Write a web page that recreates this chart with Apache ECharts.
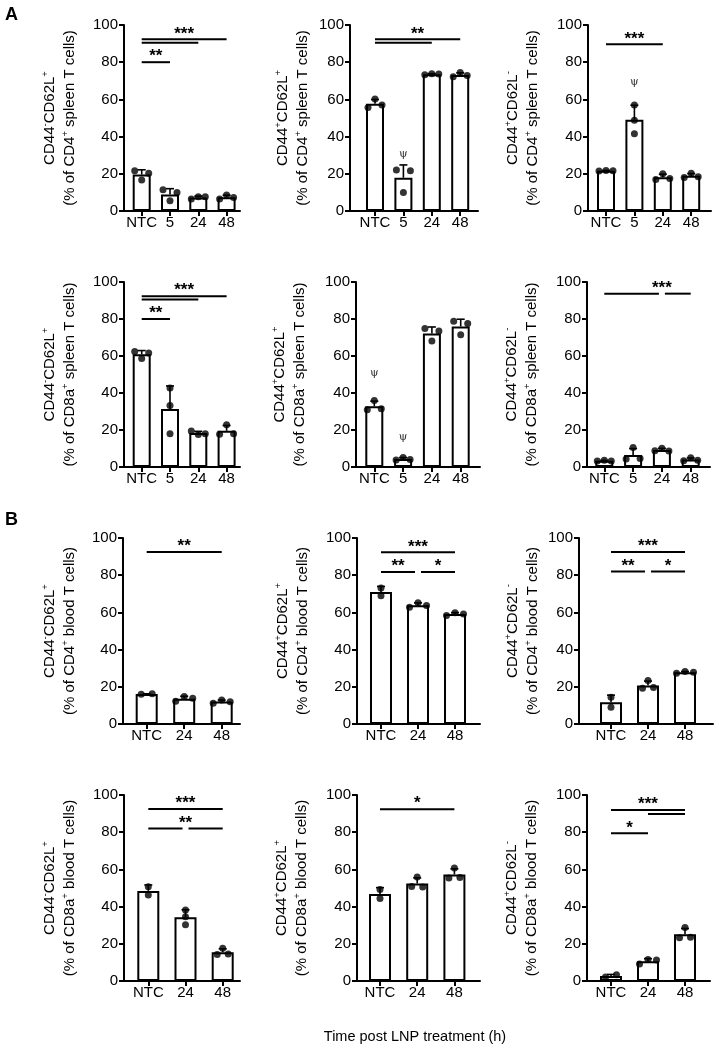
<!DOCTYPE html>
<html><head><meta charset="utf-8">
<script src="https://cdn.jsdelivr.net/npm/echarts@6/dist/echarts.min.js"></script>
<style>html,body{margin:0;padding:0;background:#fff}#c{width:719px;height:1050px}</style>
</head><body><div id="c"></div>
<script>
// ---------- data ----------
const catsA = ['NTC', '5', '24', '48'];
const catsB = ['NTC', '24', '48'];
const yTicks = [0, 20, 40, 60, 80, 100];
const xTitle = 'Time post LNP treatment (h)';

// y-axis titles: [CD44 sign, CD62L sign, parent population, tissue]
const titles = [
  ['-', '+', 'CD4', 'spleen'], ['+', '+', 'CD4', 'spleen'], ['+', '-', 'CD4', 'spleen'],
  ['-', '+', 'CD8a', 'spleen'], ['+', '+', 'CD8a', 'spleen'], ['+', '-', 'CD8a', 'spleen'],
  ['-', '+', 'CD4', 'blood'], ['+', '+', 'CD4', 'blood'], ['+', '-', 'CD4', 'blood'],
  ['-', '+', 'CD8a', 'blood'], ['+', '+', 'CD8a', 'blood'], ['+', '-', 'CD8a', 'blood']
];

// replicate values (%) per group
const p1 = [[21.7, 16.7, 20.3], [11.4, 5.5, 9.9], [6.5, 7.7, 7.7], [6.5, 8.6, 7.2]];
const p2 = [[55.7, 60.2, 57.0], [22.0, 9.9, 21.7], [73.3, 73.8, 73.6], [72.2, 74.4, 72.8]];
const p3 = [[21.5, 21.8, 21.6], [48.8, 57.0, 41.5], [17.0, 20.0, 17.5], [18.0, 20.3, 18.4]];
const p4 = [[62.5, 58.6, 61.6], [42.7, 33.3, 18.0], [19.4, 17.6, 18.0], [17.7, 22.9, 18.0]];
const p5 = [[31.0, 36.0, 31.5], [3.8, 5.2, 4.0], [74.8, 68.1, 73.5], [78.8, 71.5, 77.6]];
const p6 = [[3.2, 3.6, 3.2], [4.3, 10.5, 4.6], [8.8, 10.2, 8.6], [3.4, 5.0, 3.6]];
const p7 = [[16.0, 16.2], [12.2, 14.8, 13.8], [11.2, 12.9, 12.0]];
const p8 = [[73.1, 68.9], [62.8, 65.2, 63.7], [58.3, 59.8, 59.2]];
const p9 = [[14.4, 9.0], [19.2, 23.4, 19.6], [27.3, 28.2, 27.8]];
const p10 = [[50.7, 46.2], [38.2, 34.5, 30.2], [14.3, 17.6, 14.5]];
const p11 = [[49.2, 44.4], [50.8, 55.9, 50.6], [55.4, 60.8, 55.6]];
const p12 = [[2.2, 3.3], [9.1, 11.6, 11.3], [23.3, 28.7, 23.5]];

// significance brackets: from-group, to-group, height (%), label, optional label group
const s1 = [{f: 0, t: 1, y: 80, l: '**'}, {f: 0, t: 2, y: 90.5, l: ''}, {f: 0, t: 3, y: 92.3, l: '***'}];
const s2 = [{f: 0, t: 2, y: 90.5, l: ''}, {f: 0, t: 3, y: 92.3, l: '**'}];
const s3 = [{f: 0, t: 2, y: 89.6, l: '***'}];
const s4 = [{f: 0, t: 1, y: 80, l: '**'}, {f: 0, t: 2, y: 90.5, l: ''}, {f: 0, t: 3, y: 92.3, l: '***'}];
const s5 = [];
const s6 = [{f: 0, t: 2, y: 93.7, l: '***', at: 2}, {f: 2, t: 3, y: 93.7, l: ''}];
const s7 = [{f: 0, t: 2, y: 92.5, l: '**'}];
const s8 = [{f: 0, t: 2, y: 92.3, l: '***'}, {f: 0, t: 1, y: 81.7, l: '**'}, {f: 1, t: 2, y: 81.7, l: '*'}];
const s9 = [{f: 0, t: 2, y: 92.5, l: '***'}, {f: 0, t: 1, y: 82, l: '**'}, {f: 1, t: 2, y: 82, l: '*'}];
const s10 = [{f: 0, t: 2, y: 92.5, l: '***'}, {f: 0, t: 1, y: 82, l: '**', at: 1}, {f: 1, t: 2, y: 82, l: ''}];
const s11 = [{f: 0, t: 2, y: 92.4, l: '*'}];
const s12 = [{f: 0, t: 2, y: 91.9, l: '***'}, {f: 1, t: 2, y: 89.8, l: ''}, {f: 0, t: 1, y: 79.4, l: '*'}];

// psi annotations: group, height (%)
const psi2 = [{c: 1, y: 30.6}];
const psi3 = [{c: 1, y: 69.5}];
const psi5 = [{c: 0, y: 50.5}, {c: 1, y: 16.2}];

// ---------- layout (pixels) ----------
const font = "'Liberation Sans', Arial, Helvetica, sans-serif";
const layout = [
  {left: 124, right: 240, top: 25, bottom: 211, first: 141.7, sp: 28.3, tx: 60},
  {left: 350, right: 478, top: 25, bottom: 211, first: 375, sp: 28.4, tx: 293},
  {left: 588, right: 711, top: 25, bottom: 211, first: 606, sp: 28.4, tx: 523},
  {left: 124, right: 240, top: 282, bottom: 467, first: 141.7, sp: 28.3, tx: 60},
  {left: 356, right: 480, top: 282, bottom: 467, first: 374.3, sp: 28.8, tx: 290},
  {left: 587, right: 710, top: 282, bottom: 467, first: 604.3, sp: 28.8, tx: 522},
  {left: 123, right: 240, top: 538, bottom: 724, first: 146.7, sp: 37.5, tx: 60},
  {left: 357, right: 480, top: 538, bottom: 724, first: 381, sp: 37, tx: 293},
  {left: 579, right: 713, top: 538, bottom: 724, first: 611, sp: 37, tx: 523},
  {left: 124, right: 240, top: 795, bottom: 981, first: 148.3, sp: 37.2, tx: 60},
  {left: 357, right: 480, top: 795, bottom: 981, first: 380, sp: 37.2, tx: 292},
  {left: 587, right: 710, top: 795, bottom: 981, first: 611, sp: 37, tx: 522}
];
const styleA = {barW: 18, d2: 7, d3: 7};
const styleB = {barW: 22, d2: 5.5, d3: 8.5};

const panels = [
  {cats: catsA, vals: p1, sig: s1, psi: [], st: styleA},
  {cats: catsA, vals: p2, sig: s2, psi: psi2, st: styleA},
  {cats: catsA, vals: p3, sig: s3, psi: psi3, st: styleA},
  {cats: catsA, vals: p4, sig: s4, psi: [], st: styleA},
  {cats: catsA, vals: p5, sig: s5, psi: psi5, st: styleA},
  {cats: catsA, vals: p6, sig: s6, psi: [], st: styleA},
  {cats: catsB, vals: p7, sig: s7, psi: [], st: styleB},
  {cats: catsB, vals: p8, sig: s8, psi: [], st: styleB},
  {cats: catsB, vals: p9, sig: s9, psi: [], st: styleB},
  {cats: catsB, vals: p10, sig: s10, psi: [], st: styleB},
  {cats: catsB, vals: p11, sig: s11, psi: [], st: styleB},
  {cats: catsB, vals: p12, sig: s12, psi: [], st: styleB}
];

// ---------- helpers ----------
const mean = a => a.reduce((s, v) => s + v, 0) / a.length;
const sd = a => { const m = mean(a); return Math.sqrt(a.reduce((s, v) => s + (v - m) * (v - m), 0) / (a.length - 1)); };

// GraphPad-like scatter: points closer than ~a dot diameter share a row and are spread sideways
function offsets(vals, d2, d3) {
  const idx = vals.map((v, i) => i).sort((a, b) => vals[a] - vals[b]);
  const groups = [];
  idx.forEach(i => {
    const g = groups[groups.length - 1];
    if (g && vals[i] - vals[g[g.length - 1]] < 2.9) g.push(i); else groups.push([i]);
  });
  const off = new Array(vals.length).fill(0);
  groups.forEach(g => {
    g.sort((a, b) => a - b);
    const pat = g.length === 1 ? [0] : g.length === 2 ? [-d2, d2] : [-d3, 0, d3];
    g.forEach((i, k) => off[i] = pat[k] || 0);
  });
  return off;
}

function titleRich(t) {
  return '{a|CD44}{s|' + t[0] + '}{a|CD62L}{s|' + t[1] + '}\n{a|(% of ' + t[2] + '}{s|+}{a| ' + t[3] + ' T cells)}';
}

const grids = [], xAxes = [], yAxes = [], series = [], graphics = [];

panels.forEach((p, i) => {
  const L = layout[i];
  const xmin = -(L.first - L.left) / L.sp;
  const xmax = xmin + (L.right - L.left) / L.sp;
  const idxs = p.cats.map((c, k) => k);
  grids.push({left: L.left, top: L.top, width: L.right - L.left, height: L.bottom - L.top});
  xAxes.push({
    type: 'value', gridIndex: i, min: xmin, max: xmax,
    axisLine: {show: true, onZero: false, lineStyle: {color: '#000', width: 2}},
    axisTick: {show: true, customValues: idxs, length: 5, lineStyle: {color: '#000', width: 2}},
    axisLabel: {show: true, customValues: idxs, formatter: v => p.cats[Math.round(v)], color: '#000', fontSize: 15, fontFamily: font, margin: 4},
    splitLine: {show: false}
  });
  yAxes.push({
    type: 'value', gridIndex: i, min: yTicks[0], max: yTicks[yTicks.length - 1], interval: yTicks[1] - yTicks[0],
    axisLine: {show: true, onZero: false, lineStyle: {color: '#000', width: 2}},
    axisTick: {show: true, length: 5, lineStyle: {color: '#000', width: 2}},
    axisLabel: {color: '#000', fontSize: 15, fontFamily: font, margin: 6},
    splitLine: {show: false}
  });

  // bars (mean)
  series.push({
    type: 'bar', xAxisIndex: i, yAxisIndex: i, barWidth: p.st.barW, z: 2,
    data: p.vals.map((g, k) => [k, mean(g)]),
    itemStyle: {color: '#fff', borderColor: '#000', borderWidth: 2},
    silent: true
  });
  // error bars (SD, upper)
  series.push({
    type: 'custom', xAxisIndex: i, yAxisIndex: i, z: 3, silent: true,
    data: p.vals.map((g, k) => [k, mean(g), sd(g)]),
    renderItem: (params, api) => {
      const x = api.value(0), m = api.value(1), s = api.value(2);
      const a = api.coord([x, m]), b = api.coord([x, m + s]);
      return {type: 'group', children: [
        {type: 'line', shape: {x1: a[0], y1: a[1], x2: b[0], y2: b[1]}, style: {stroke: '#000', lineWidth: 1.6}},
        {type: 'line', shape: {x1: b[0] - 4, y1: b[1], x2: b[0] + 4, y2: b[1]}, style: {stroke: '#000', lineWidth: 1.6}}
      ]};
    }
  });
  // individual points
  const pts = [];
  p.vals.forEach((g, k) => {
    const off = offsets(g, p.st.d2, p.st.d3);
    g.forEach((v, j) => pts.push([k + off[j] / L.sp, v]));
  });
  series.push({
    type: 'scatter', xAxisIndex: i, yAxisIndex: i, z: 4, silent: true,
    symbolSize: 7, itemStyle: {color: '#000'}, data: pts
  });
  // significance brackets
  if (p.sig.length) {
    const sg = p.sig.map(s => Object.assign({}, s, {
      shL: p.sig.some(o => o !== s && Math.abs(o.y - s.y) < 0.5 && o.t === s.f),
      shR: p.sig.some(o => o !== s && Math.abs(o.y - s.y) < 0.5 && o.f === s.t)
    }));
    series.push({
      type: 'custom', xAxisIndex: i, yAxisIndex: i, z: 5, silent: true,
      data: sg.map(s => [s.f, s.y]),
      renderItem: (params, api) => {
        const s = sg[params.dataIndex];
        const a = api.coord([s.f, s.y]), b = api.coord([s.t, s.y]);
        const x1 = a[0] + (s.shL ? 3 : 0), x2 = b[0] - (s.shR ? 3 : 0);
        const ch = [{type: 'line', shape: {x1: x1, y1: a[1], x2: x2, y2: a[1]}, style: {stroke: '#000', lineWidth: 2}}];
        if (s.l) {
          const cx = s.at != null ? api.coord([s.at, s.y])[0] : (x1 + x2) / 2;
          ch.push({type: 'text', x: cx, y: a[1] + 3, style: {text: s.l, fontSize: 17, fontWeight: 'bold', fontFamily: font, fill: '#000', align: 'center', verticalAlign: 'bottom'}});
        }
        return {type: 'group', children: ch};
      }
    });
  }
  // psi marks
  if (p.psi.length) {
    series.push({
      type: 'custom', xAxisIndex: i, yAxisIndex: i, z: 5, silent: true,
      data: p.psi.map(q => [q.c, q.y]),
      renderItem: (params, api) => {
        const c = api.coord([api.value(0), api.value(1)]);
        return {type: 'text', x: c[0], y: c[1], style: {text: 'ψ', fontSize: 11, fontFamily: "'DejaVu Serif', serif", fill: '#333', align: 'center', verticalAlign: 'middle'}};
      }
    });
  }
  // y-axis title
  graphics.push({
    type: 'text', x: L.tx, y: (L.top + L.bottom) / 2, rotation: Math.PI / 2,
    style: {
      text: titleRich(titles[i]), align: 'center', verticalAlign: 'middle', fill: '#000',
      rich: {
        a: {fontSize: 15, fontFamily: font, lineHeight: 20, fill: '#000'},
        s: {fontSize: 9.5, fontFamily: font, lineHeight: 9, verticalAlign: 'top', fill: '#000'}
      }
    }
  });
});

graphics.push({type: 'text', x: 5, y: 6, style: {text: 'A', fontSize: 18, fontWeight: 'bold', fontFamily: font, fill: '#000'}});
graphics.push({type: 'text', x: 5, y: 511, style: {text: 'B', fontSize: 18, fontWeight: 'bold', fontFamily: font, fill: '#000'}});
graphics.push({type: 'text', x: 415, y: 1037, style: {text: xTitle, fontSize: 14.5, fontFamily: font, fill: '#000', align: 'center', verticalAlign: 'middle'}});

const chart = echarts.init(document.getElementById('c'));
chart.setOption({
  animation: false,
  backgroundColor: '#fff',
  grid: grids, xAxis: xAxes, yAxis: yAxes, series: series, graphic: graphics
});
</script></body></html>
